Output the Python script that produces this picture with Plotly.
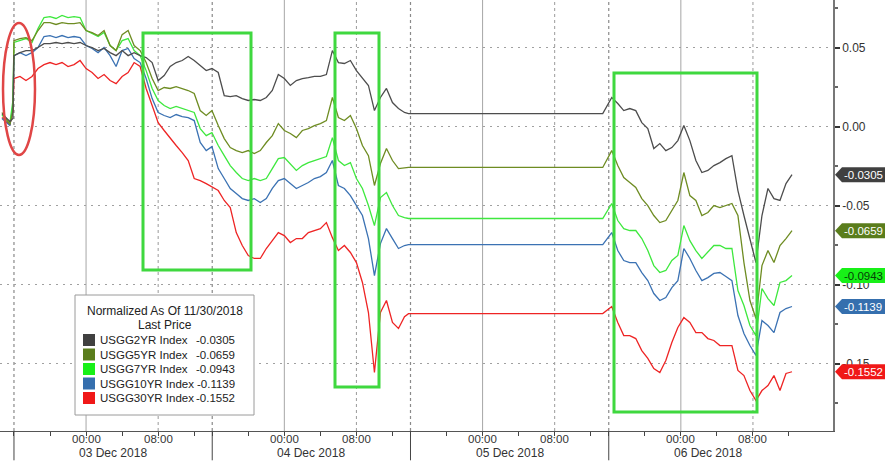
import pandas as pd
import plotly.graph_objects as go

# ---------------- data (normalized yield change since 11/30/2018) ----------------
PRE_TIMES = ["2018-12-02 12:40", "2018-12-02 13:07", "2018-12-02 13:33", "2018-12-02 13:53"]
DEC3_START, DEC3_N, DEC3_LAST = "2018-12-02 16:00", 33, "2018-12-03 13:58"
DEC4_START, DEC4_N, DEC4_LAST = "2018-12-03 16:40", 32, "2018-12-04 13:47"
HOLD_TIME = "2018-12-05 13:20"          # carried-forward value (no trading 05 Dec)
DEC6_START, DEC6_N = "2018-12-05 16:20", 31
STEP = "40min"

names = ["USGG2YR Index", "USGG5YR Index", "USGG7YR Index", "USGG10YR Index", "USGG30YR Index"]
last_price = [-0.0305, -0.0659, -0.0943, -0.1139, -0.1552]

us2_pre = [0.0082, 0.0057, 0.0032, 0.0051]
us2_d3 = [0.0449, 0.0468, 0.0481, 0.0481, 0.0500, 0.0525, 0.0525, 0.0532, 0.0525, 0.0532,
          0.0525, 0.0532, 0.0513, 0.0500, 0.0481, 0.0494, 0.0468, 0.0449, 0.0481, 0.0449,
          0.0468, 0.0449, 0.0437, 0.0405, 0.0291, 0.0323, 0.0380, 0.0405, 0.0418, 0.0443,
          0.0418, 0.0386, 0.0354, 0.0367]
us2_d4 = [0.0342, 0.0196, 0.0190, 0.0196, 0.0177, 0.0165, 0.0171, 0.0165, 0.0184, 0.0228,
          0.0329, 0.0304, 0.0260, 0.0291, 0.0304, 0.0310, 0.0317, 0.0317, 0.0329, 0.0481,
          0.0405, 0.0399, 0.0418, 0.0354, 0.0304, 0.0260, 0.0101, 0.0184, 0.0241, 0.0152,
          0.0114, 0.0089, 0.0082]
us2_d6 = [0.0184, 0.0146, 0.0101, 0.0114, 0.0101, 0.0025, -0.0013, -0.0139, -0.0108, -0.0152,
          -0.0133, -0.0089, 0.0006, -0.0089, -0.0215, -0.0291, -0.0278, -0.0247, -0.0228, -0.0203,
          -0.0184, -0.0405, -0.0563, -0.0722, -0.0861, -0.0563, -0.0392, -0.0456, -0.0468, -0.0361,
          -0.0305]

us5_pre = [0.0089, 0.0051, 0.0013, 0.0101]
us5_d3 = [0.0544, 0.0557, 0.0563, 0.0544, 0.0608, 0.0658, 0.0658, 0.0646, 0.0658, 0.0652,
          0.0652, 0.0658, 0.0608, 0.0595, 0.0576, 0.0608, 0.0513, 0.0481, 0.0582, 0.0608,
          0.0513, 0.0481, 0.0405, 0.0304, 0.0228, 0.0247, 0.0241, 0.0253, 0.0241, 0.0228,
          0.0209, 0.0101, 0.0070, 0.0101]
us5_d4 = [0.0006, -0.0076, -0.0133, -0.0152, -0.0165, -0.0152, -0.0171, -0.0152, -0.0101, -0.0057,
          0.0019, -0.0025, -0.0044, -0.0070, -0.0025, -0.0013, 0.0006, 0.0019, 0.0038, 0.0184,
          0.0057, 0.0038, 0.0070, -0.0013, -0.0120, -0.0184, -0.0373, -0.0234, -0.0139, -0.0215,
          -0.0266, -0.0259, -0.0259]
us5_d6 = [-0.0152, -0.0247, -0.0323, -0.0354, -0.0386, -0.0456, -0.0500, -0.0563, -0.0608, -0.0595,
          -0.0532, -0.0468, -0.0291, -0.0437, -0.0468, -0.0563, -0.0544, -0.0500, -0.0513, -0.0500,
          -0.0487, -0.0563, -0.0861, -0.1101, -0.1215, -0.0880, -0.0785, -0.0861, -0.0753, -0.0709,
          -0.0659]

us7_pre = [0.0076, 0.0038, 0.0025, 0.0165]
us7_d3 = [0.0532, 0.0544, 0.0557, 0.0532, 0.0620, 0.0690, 0.0696, 0.0684, 0.0703, 0.0690,
          0.0696, 0.0690, 0.0608, 0.0589, 0.0570, 0.0595, 0.0513, 0.0481, 0.0544, 0.0557,
          0.0481, 0.0449, 0.0354, 0.0241, 0.0165, 0.0133, 0.0114, 0.0127, 0.0114, 0.0101,
          0.0089, -0.0013, -0.0057, -0.0038]
us7_d4 = [-0.0120, -0.0184, -0.0247, -0.0291, -0.0329, -0.0342, -0.0329, -0.0342, -0.0329, -0.0266,
          -0.0203, -0.0196, -0.0234, -0.0278, -0.0247, -0.0228, -0.0215, -0.0203, -0.0190, -0.0070,
          -0.0215, -0.0247, -0.0228, -0.0329, -0.0392, -0.0500, -0.0627, -0.0449, -0.0418, -0.0500,
          -0.0563, -0.0576, -0.0582]
us7_d6 = [-0.0487, -0.0595, -0.0646, -0.0658, -0.0658, -0.0709, -0.0785, -0.0880, -0.0924, -0.0911,
          -0.0848, -0.0816, -0.0627, -0.0722, -0.0785, -0.0835, -0.0797, -0.0753, -0.0753, -0.0772,
          -0.0772, -0.1038, -0.1133, -0.1259, -0.1323, -0.1025, -0.1089, -0.1133, -0.0987, -0.0975,
          -0.0943]

us10_pre = [0.0051, 0.0025, 0.0006, 0.0133]
us10_d3 = [0.0449, 0.0468, 0.0449, 0.0468, 0.0500, 0.0570, 0.0576, 0.0563, 0.0576, 0.0563,
           0.0570, 0.0563, 0.0513, 0.0494, 0.0468, 0.0500, 0.0449, 0.0380, 0.0481, 0.0494,
           0.0430, 0.0405, 0.0304, 0.0177, 0.0089, 0.0070, 0.0057, 0.0076, 0.0063, 0.0057,
           0.0038, -0.0101, -0.0152, -0.0127]
us10_d4 = [-0.0266, -0.0329, -0.0392, -0.0424, -0.0456, -0.0468, -0.0456, -0.0481, -0.0456, -0.0392,
           -0.0342, -0.0329, -0.0361, -0.0392, -0.0373, -0.0354, -0.0329, -0.0317, -0.0291, -0.0215,
           -0.0373, -0.0392, -0.0437, -0.0500, -0.0563, -0.0709, -0.0943, -0.0741, -0.0646, -0.0709,
           -0.0772, -0.0753, -0.0747]
us10_d6 = [-0.0671, -0.0785, -0.0848, -0.0861, -0.0861, -0.0924, -0.0975, -0.1057, -0.1101, -0.1082,
           -0.1019, -0.0975, -0.0772, -0.0835, -0.0911, -0.0975, -0.0956, -0.0930, -0.0924, -0.0949,
           -0.0975, -0.1196, -0.1310, -0.1386, -0.1449, -0.1228, -0.1259, -0.1304, -0.1177, -0.1152,
           -0.1139]

us30_pre = [0.0057, 0.0032, 0.0013, 0.0101]
us30_d3 = [0.0304, 0.0317, 0.0291, 0.0317, 0.0367, 0.0392, 0.0405, 0.0392, 0.0405, 0.0380,
           0.0392, 0.0418, 0.0367, 0.0342, 0.0304, 0.0329, 0.0291, 0.0272, 0.0317, 0.0342,
           0.0405, 0.0380, 0.0241, 0.0133, 0.0025, -0.0025, -0.0076, -0.0120, -0.0165, -0.0215,
           -0.0329, -0.0342, -0.0361, -0.0380]
us30_d4 = [-0.0405, -0.0468, -0.0513, -0.0671, -0.0753, -0.0816, -0.0835, -0.0835, -0.0772, -0.0722,
           -0.0671, -0.0690, -0.0734, -0.0709, -0.0709, -0.0671, -0.0658, -0.0646, -0.0608, -0.0703,
           -0.0785, -0.0753, -0.0797, -0.0861, -0.0987, -0.1177, -0.1557, -0.1177, -0.1101, -0.1240,
           -0.1278, -0.1203, -0.1184]
us30_d6 = [-0.1139, -0.1240, -0.1323, -0.1323, -0.1342, -0.1418, -0.1468, -0.1532, -0.1557, -0.1481,
           -0.1367, -0.1272, -0.1209, -0.1240, -0.1304, -0.1304, -0.1342, -0.1354, -0.1386, -0.1386,
           -0.1386, -0.1544, -0.1576, -0.1671, -0.1734, -0.1671, -0.1639, -0.1576, -0.1671, -0.1563,
           -0.1552]

y_ticks = [0.05, 0.0, -0.05, -0.10, -0.15]
y_ticktext = ["0.05", "0.00", "-0.05", "-0.10", "-0.15"]
day_labels = ["03 Dec 2018", "04 Dec 2018", "05 Dec 2018", "06 Dec 2018"]

# ---------------- styles ----------------
line_colors = ["#4d4d4d", "#6e8c22", "#3ee83e", "#3b72b3", "#ee2424"]
tag_bg = ["#404040", "#5a7d1c", "#18f018", "#356fae", "#f01818"]
tag_fg = ["#ffffff", "#ffffff", "#064006", "#ffffff", "#ffffff"]
FONT = "Liberation Sans, Arial, sans-serif"

# ---------------- time axis ----------------
times = (PRE_TIMES
         + [str(t) for t in pd.date_range(DEC3_START, periods=DEC3_N, freq=STEP)] + [DEC3_LAST]
         + [str(t) for t in pd.date_range(DEC4_START, periods=DEC4_N, freq=STEP)] + [DEC4_LAST]
         + [HOLD_TIME]
         + [str(t) for t in pd.date_range(DEC6_START, periods=DEC6_N, freq=STEP)])

series = [
    us2_pre + us2_d3 + us2_d4 + [us2_d4[-1]] + us2_d6,
    us5_pre + us5_d3 + us5_d4 + [us5_d4[-1]] + us5_d6,
    us7_pre + us7_d3 + us7_d4 + [us7_d4[-1]] + us7_d6,
    us10_pre + us10_d3 + us10_d4 + [us10_d4[-1]] + us10_d6,
    us30_pre + us30_d3 + us30_d4 + [us30_d4[-1]] + us30_d6,
]

fig = go.Figure()
for i in reversed(range(5)):
    fig.add_trace(go.Scatter(x=times, y=series[i], mode="lines", name=names[i],
                             line=dict(color=line_colors[i], width=1.3), hoverinfo="skip"))

# plot geometry (pixels) for decorations
W, H = 890, 465
PL, PR, PT, PB = 0, 833, 0, 431
def px(x):
    return (x - PL) / (PR - PL)
def py(y):
    return 1 - (y - PT) / (PB - PT)

session_starts = pd.to_datetime(["2018-12-02 16:00", "2018-12-03 16:00", "2018-12-04 16:00", "2018-12-05 16:00"])
tickvals = []
for s in session_starts:
    for h in [0, 4, 8, 12, 16, 20]:
        tickvals.append(str(s + pd.Timedelta(hours=h)))

shapes = []
annotations = []
for s in session_starts:
    midnight = str(s + pd.Timedelta(hours=8))
    eight = str(s + pd.Timedelta(hours=16))
    shapes.append(dict(type="line", xref="x", yref="paper", x0=midnight, x1=midnight, y0=0, y1=1,
                       line=dict(color="#a6a6a6", width=1), layer="below"))
    shapes.append(dict(type="line", xref="x", yref="paper", x0=eight, x1=eight, y0=0, y1=1,
                       line=dict(color="#9a9a9a", width=1, dash="dot"), layer="below"))
    shapes.append(dict(type="line", xref="x", yref="paper", x0=str(s), x1=str(s), y0=0, y1=1,
                       line=dict(color="#8a8a8a", width=1.2, dash="dot"), layer="below"))
    shapes.append(dict(type="line", xref="x", yref="paper", x0=str(s), x1=str(s), y0=-0.068, y1=0,
                       line=dict(color="#444444", width=1)))
    for t, lab in [(midnight, "00:00"), (eight, "08:00")]:
        annotations.append(dict(xref="x", yref="paper", x=t, y=py(438.5), text=lab, showarrow=False,
                                font=dict(family=FONT, size=11.5, color="#333"),
                                xanchor="center", yanchor="middle"))

# green highlight boxes and red ellipse
for (x0, y0, x1, y1) in [(143, 33, 251, 270), (335, 33, 379, 387), (614, 73, 757, 412)]:
    shapes.append(dict(type="rect", xref="paper", yref="paper", x0=px(x0), x1=px(x1),
                       y0=py(y1), y1=py(y0), line=dict(color="#3fd83f", width=3), layer="above"))
shapes.append(dict(type="circle", xref="paper", yref="paper", x0=px(3), x1=px(35),
                   y0=py(155), y1=py(23), line=dict(color="#e04646", width=2.5), layer="above"))

# legend box
shapes.append(dict(type="rect", xref="paper", yref="paper", x0=px(75), x1=px(254), y0=py(415), y1=py(295),
                   line=dict(color="#9a9a9a", width=1), fillcolor="white", layer="above"))
annotations.append(dict(xref="paper", yref="paper", x=px(165), y=py(311), text="Normalized As Of 11/30/2018",
                        showarrow=False, font=dict(family=FONT, size=12, color="#222"), xanchor="center", yanchor="middle"))
annotations.append(dict(xref="paper", yref="paper", x=px(165), y=py(325), text="Last Price",
                        showarrow=False, font=dict(family=FONT, size=12, color="#222"), xanchor="center", yanchor="middle"))
row_y = [340, 354.5, 369, 383.5, 398]
for i in range(5):
    shapes.append(dict(type="rect", xref="paper", yref="paper", x0=px(83), x1=px(95),
                       y0=py(row_y[i] + 6), y1=py(row_y[i] - 6), line=dict(width=0),
                       fillcolor=tag_bg[i], layer="above"))
    annotations.append(dict(xref="paper", yref="paper", x=px(98), y=py(row_y[i]), text=names[i],
                            showarrow=False, font=dict(family=FONT, size=11.5, color="#222"),
                            xanchor="left", yanchor="middle"))
    annotations.append(dict(xref="paper", yref="paper", x=px(237), y=py(row_y[i]), text=f"{last_price[i]:.4f}",
                            showarrow=False, font=dict(family=FONT, size=11.5, color="#222"),
                            xanchor="right", yanchor="middle"))

# right-hand value tags
half = 7.5 / 1580
for i in range(5):
    v = last_price[i]
    path = (f"M {px(835)},{v} L {px(842)},{v + half} L {px(885)},{v + half} "
            f"L {px(885)},{v - half} L {px(842)},{v - half} Z")
    shapes.append(dict(type="path", xref="paper", yref="y", path=path, fillcolor=tag_bg[i],
                       line=dict(width=0), layer="above"))
    annotations.append(dict(xref="paper", yref="y", x=px(863), y=v, text=f"{v:.4f}", showarrow=False,
                            font=dict(family=FONT, size=11.5, color=tag_fg[i]),
                            xanchor="center", yanchor="middle"))

# day labels
for s, lab in zip(session_starts, day_labels):
    annotations.append(dict(xref="x", yref="paper", x=str(s + pd.Timedelta(hours=11)), y=py(453),
                            text=lab, showarrow=False, font=dict(family=FONT, size=12, color="#333"),
                            xanchor="center", yanchor="middle"))

fig.update_layout(
    width=W, height=H,
    margin=dict(l=PL, r=W - PR, t=PT, b=H - PB, pad=0, autoexpand=False),
    paper_bgcolor="white", plot_bgcolor="white",
    showlegend=False,
    font=dict(family=FONT, size=11, color="#333"),
    shapes=shapes, annotations=annotations,
    xaxis=dict(
        type="date",
        range=["2018-12-02 12:27", "2018-12-06 18:53"],
        rangebreaks=[dict(bounds=[14, 16], pattern="hour")],
        tickmode="array", tickvals=tickvals, showticklabels=False,
        ticks="outside", ticklen=4, tickcolor="#444", tickwidth=1,
        showgrid=False, zeroline=False,
        showline=True, linecolor="#555", linewidth=1,
    ),
    yaxis=dict(
        side="right",
        range=[-0.1927, 0.0801],
        tickmode="array", tickvals=y_ticks, ticktext=y_ticktext,
        ticks="outside", ticklen=5, tickwidth=2, tickcolor="#333",
        tickfont=dict(family=FONT, size=12, color="#333"),
        minor=dict(tickmode="array", tickvals=[0.075, 0.025, -0.025, -0.075, -0.125, -0.175],
                   ticks="outside", ticklen=3, tickcolor="#666", showgrid=False),
        showgrid=True, gridcolor="#a0a0a0", gridwidth=1, griddash="2px,5px",
        zeroline=False,
        showline=True, linecolor="#777", linewidth=1.5,
    ),
)

fig.write_html("out.html", config={"displayModeBar": False},
               post_script="document.body.style.margin='0';document.body.style.overflow='hidden';")
